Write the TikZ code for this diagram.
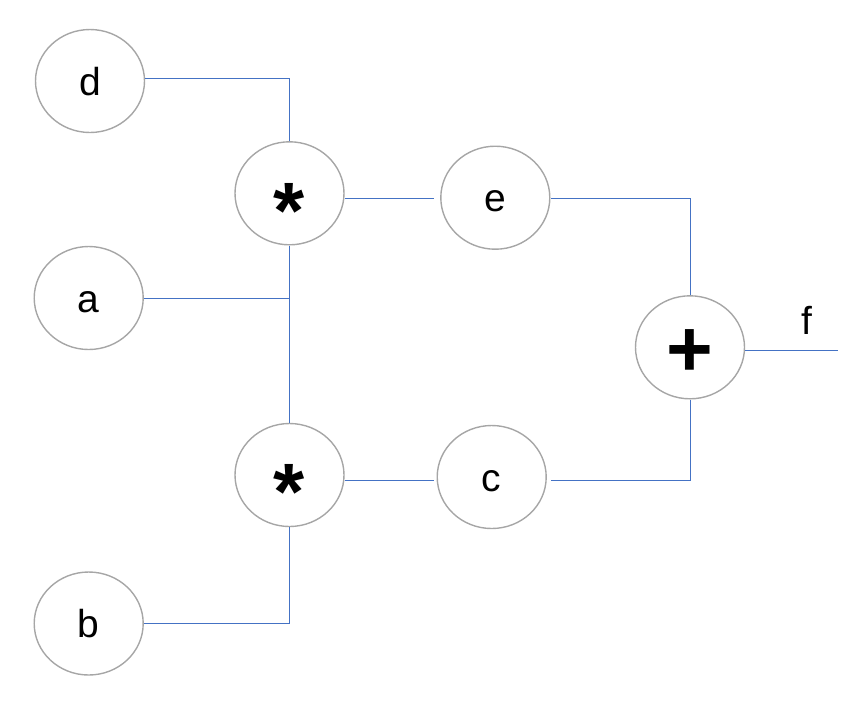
\documentclass[tikz,border=0pt]{standalone}
\usepackage{fontspec}
\setmainfont{Liberation Sans}
\usetikzlibrary{shapes.geometric}
\definecolor{wireblue}{HTML}{4472C4}
\definecolor{rimgray}{HTML}{A6A6A6}
\newcommand{\opsym}[2]{\smash{\raisebox{-#1}{#2}}}
\begin{document}
\begin{tikzpicture}[x=1pt,y=-1pt,
  var/.style={ellipse,draw=rimgray,line width=1.4pt,minimum width=109pt,minimum height=103pt,inner sep=0pt,
    text height=28pt,text depth=0pt,font=\fontsize{39}{41}\selectfont},
  op/.style={var,text height=0pt,text depth=0pt,font=\fontsize{80}{82}\selectfont\bfseries},
  wire/.style={draw=wireblue,line width=1pt}]
\useasboundingbox (0,0) rectangle (864,724);
% input variables
\node[var] (d) at (90,81) {d};
\node[var] (a) at (88.7,298) {a};
\node[var] (b) at (88.7,623.5) {b};
% multiplications
\node[op] (m1) at (289.5,193.3) {\opsym{0.56em}{*}};
\node[op] (m2) at (289.5,475) {\opsym{0.56em}{*}};
% intermediate results
\node[var] (e) at (495.3,197.7) {e};
\node[var] (c) at (491.7,477) {c};
% addition
\node[op] (plus) at (690,347.3) {\opsym{0.36em}{+}};
\coordinate (fend) at (838,350);
\node[font=\fontsize{39}{41}\selectfont] (f) at (807,320) {f};
% connections
\draw[wire] (d.east |- 0,78.3) -| (m1.north);
\draw[wire] (a.east) -- (a.east -| m1.south);
\draw[wire] (m1.south) -- (m2.north);
\draw[wire] (b.east) -| (m2.south);
\draw[wire,shorten >=6pt] (m1.east |- 0,198.3) -- (e.west |- 0,198.3);
\draw[wire,shorten >=3pt] (m2.east |- 0,480.3) -- (c.west |- 0,480.3);
\draw[wire] (e.east |- 0,198.3) -| (plus.north);
\draw[wire,shorten <=4pt] (c.east |- 0,480.3) -| (plus.south);
\draw[wire] (plus.east |- 0,350) -- (fend);
\end{tikzpicture}
\end{document}
